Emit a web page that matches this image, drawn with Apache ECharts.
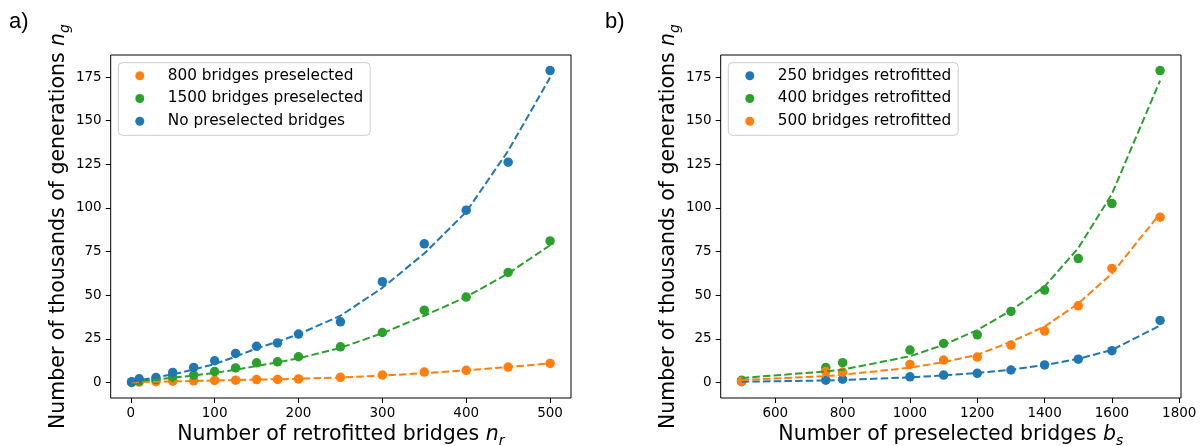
<!DOCTYPE html>
<html>
<head>
    <meta charset="utf-8">
    <title>generations</title>
    <script src="https://cdn.jsdelivr.net/npm/echarts@6/dist/echarts.min.js"></script>
    <style>
        html, body { margin: 0; padding: 0; background: #fff; }
        #main { width: 1200px; height: 446px; }
    </style>
</head>
<body>
<div id="main"></div>
<script type="text/javascript">

    // a) number of retrofitted bridges n_r
    var retrofitted = [1, 10, 30, 50, 75, 100, 125, 150, 175, 200, 250, 300, 350, 400, 450, 500];
    var pre800 = [0, 0.2, 0.4, 0.7, 0.9, 1.1, 1.3, 1.6, 1.7, 2.0, 2.9, 4.2, 5.9, 6.9, 8.8, 10.9];
    var pre1500 = [0, 0.8, 1.6, 2.8, 4.2, 6.2, 8.3, 11.2, 11.8, 14.7, 20.4, 28.6, 41.4, 48.9, 63.0, 81.1];
    var preNone = [0.4, 2.1, 2.8, 5.7, 8.6, 12.4, 16.6, 20.7, 22.6, 27.7, 34.7, 57.7, 79.4, 98.7, 126.2, 178.7];
    // fitted curves (dashed)
    var fit800 = [0, 0.2, 0.4, 0.6, 0.8, 1.1, 1.3, 1.6, 1.8, 2.1, 2.8, 3.9, 5.3, 6.9, 8.8, 10.9];
    var fit1500 = [0.5, 1.0, 1.7, 2.7, 3.9, 5.5, 7.3, 9.4, 11.5, 13.8, 19.8, 28.2, 38.2, 49.0, 62.4, 78.6];
    var fitNone = [0.5, 1.3, 2.9, 4.6, 7.4, 10.5, 14.8, 19.5, 23.3, 27.6, 38.2, 54.2, 73.9, 97.7, 132.7, 174.7];

    // b) number of preselected bridges b_s
    var preselected = [500, 750, 800, 1000, 1100, 1200, 1300, 1400, 1500, 1600, 1743];
    var ret250 = [0.4, 1.3, 1.8, 3.2, 4.2, 5.2, 7.1, 10.0, 13.3, 18.2, 35.5];
    var ret400 = [1.2, 8.5, 11.3, 18.5, 22.3, 27.3, 40.7, 52.9, 71.0, 102.5, 178.7];
    var ret500 = [0.6, 6.2, 5.9, 10.3, 12.8, 14.5, 21.4, 29.4, 43.9, 65.3, 94.7];
    var fit250 = [0.4, 1.1, 1.4, 2.9, 4.0, 5.4, 7.3, 9.9, 13.5, 18.6, 32.6];
    var fit400 = [2.5, 6.3, 7.3, 15.0, 21.5, 30.0, 41.2, 55.0, 77.0, 108.0, 173.0];
    var fit500 = [1.3, 3.6, 4.4, 8.4, 11.6, 15.8, 23.3, 32.0, 45.2, 62.4, 96.8];

    var xTicksA = [0, 100, 200, 300, 400, 500];
    var xTicksB = [600, 800, 1000, 1200, 1400, 1600, 1800];
    var yTicks = [0, 25, 50, 75, 100, 125, 150, 175];

    var blue = '#1f77b4', orange = '#ff7f0e', green = '#2ca02c';
    var font = 'DejaVu Sans';

    function pairs(xs, ys) {
        var out = [];
        for (var i = 0; i < xs.length; i++) out.push([xs[i], ys[i]]);
        return out;
    }

    function plain(v) { return String(v); }

    var nameStyle = {
        fontFamily: font, fontSize: 20.5, color: '#000', lineHeight: 28,
        rich: {
            i: {fontFamily: font, fontSize: 20.5, fontStyle: 'italic', color: '#000', lineHeight: 28},
            s: {fontFamily: font, fontSize: 14, fontStyle: 'italic', color: '#000', lineHeight: 14, verticalAlign: 'bottom'}
        }
    };

    function xAxis(idx, min, max, ticks, name) {
        return {
            type: 'value', gridIndex: idx, min: min, max: max,
            name: name, nameLocation: 'middle', nameGap: 22.5, nameMoveOverlap: false, nameTextStyle: nameStyle,
            axisLine: {show: false, onZero: false},
            axisTick: {show: true, length: 5, customValues: ticks, lineStyle: {color: '#000', width: 1}},
            axisLabel: {customValues: ticks, formatter: plain, margin: 8, fontFamily: font, fontSize: 13.5, color: '#000'},
            splitLine: {show: false}
        };
    }

    function yAxis(idx) {
        return {
            type: 'value', gridIndex: idx, min: -8.94, max: 187.64,
            name: 'Number of thousands of generations {i|n}{s|g}', nameLocation: 'middle', nameGap: 38.5,
            nameMoveOverlap: false, nameTextStyle: nameStyle,
            axisLine: {show: false, onZero: false},
            axisTick: {show: true, length: 5, customValues: yTicks, lineStyle: {color: '#000', width: 1}},
            axisLabel: {customValues: yTicks, formatter: plain, margin: 9, fontFamily: font, fontSize: 13.5, color: '#000'},
            splitLine: {show: false}
        };
    }

    function dots(name, idx, xs, ys, color) {
        return {
            name: name, type: 'scatter', xAxisIndex: idx, yAxisIndex: idx,
            data: pairs(xs, ys), symbolSize: 9.5, itemStyle: {color: color, opacity: 1}, z: 3
        };
    }

    function fit(name, idx, xs, ys, color) {
        return {
            name: name, type: 'line', xAxisIndex: idx, yAxisIndex: idx,
            data: pairs(xs, ys), showSymbol: false, symbol: 'none', z: 4,
            lineStyle: {color: color, width: 2, type: [7.5, 3.2]}
        };
    }

    function legend(left, names) {
        return {
            orient: 'vertical', left: left, top: 62.7, data: names,
            icon: 'circle', itemWidth: 9, itemHeight: 9, itemGap: 6.8,
            padding: [5, 7, 6, 17],
            backgroundColor: 'rgba(255,255,255,0.8)', borderColor: '#cccccc', borderWidth: 1, borderRadius: 4,
            textStyle: {fontFamily: font, fontSize: 15.3, color: '#000', lineHeight: 16, padding: [0, 0, 0, 18.5]},
            selectedMode: false
        };
    }

    var myChart = echarts.init(document.getElementById('main'), null, {renderer: 'canvas'});

    var option = {
        animation: false,
        backgroundColor: '#fff',
        grid: [
            {left: 110.7, top: 55, width: 460.3, height: 343, outerBoundsMode: 'none', containLabel: false,
             show: true, borderColor: '#000', borderWidth: 1, backgroundColor: 'transparent'},
            {left: 720.7, top: 55, width: 460.3, height: 343, outerBoundsMode: 'none', containLabel: false,
             show: true, borderColor: '#000', borderWidth: 1, backgroundColor: 'transparent'}
        ],
        xAxis: [
            xAxis(0, -23.95, 524.95, xTicksA, 'Number of retrofitted bridges {i|n}{s|r}'),
            xAxis(1, 437.85, 1805.15, xTicksB, 'Number of preselected bridges {i|b}{s|s}')
        ],
        yAxis: [yAxis(0), yAxis(1)],
        legend: [
            legend(118.3, ['800 bridges preselected', '1500 bridges preselected', 'No preselected bridges']),
            legend(728.3, ['250 bridges retrofitted', '400 bridges retrofitted', '500 bridges retrofitted'])
        ],
        graphic: [
            {type: 'text', left: 9, top: 11, style: {text: 'a)', fontFamily: 'Liberation Sans', fontSize: 22, fill: '#000'}},
            {type: 'text', left: 605, top: 11, style: {text: 'b)', fontFamily: 'Liberation Sans', fontSize: 22, fill: '#000'}}
        ],
        series: [
            dots('800 bridges preselected', 0, retrofitted, pre800, orange),
            dots('1500 bridges preselected', 0, retrofitted, pre1500, green),
            dots('No preselected bridges', 0, retrofitted, preNone, blue),
            fit('fit 800', 0, retrofitted, fit800, orange),
            fit('fit 1500', 0, retrofitted, fit1500, green),
            fit('fit none', 0, retrofitted, fitNone, blue),
            dots('250 bridges retrofitted', 1, preselected, ret250, blue),
            dots('400 bridges retrofitted', 1, preselected, ret400, green),
            dots('500 bridges retrofitted', 1, preselected, ret500, orange),
            fit('fit 250', 1, preselected, fit250, blue),
            fit('fit 400', 1, preselected, fit400, green),
            fit('fit 500', 1, preselected, fit500, orange)
        ]
    };

    myChart.setOption(option);

</script>
</body>
</html>
